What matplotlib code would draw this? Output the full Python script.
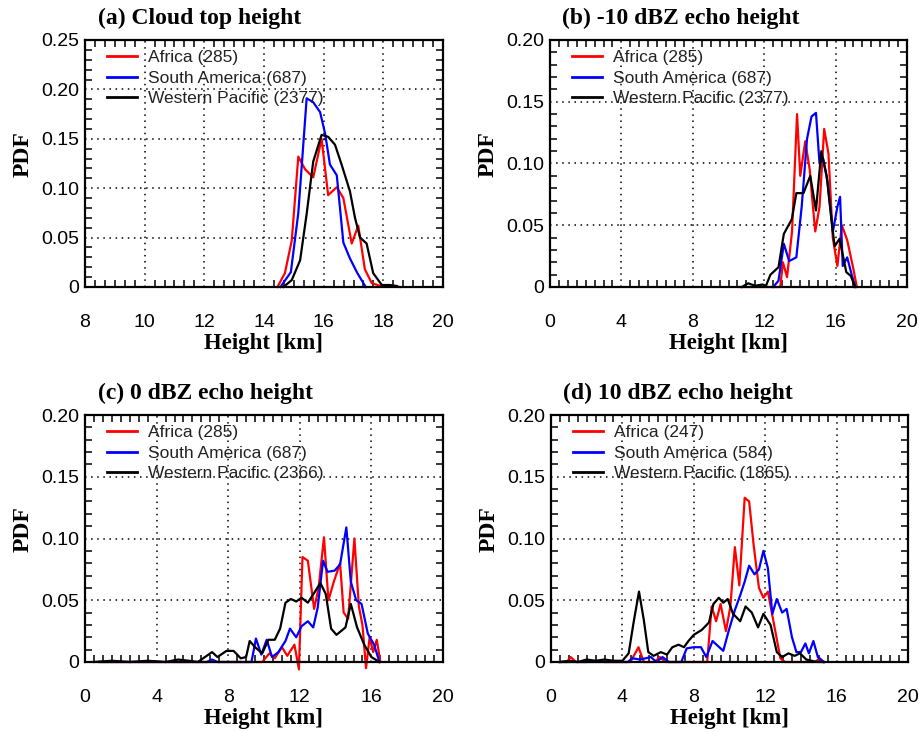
import matplotlib
matplotlib.use("Agg")
import matplotlib.pyplot as plt
from matplotlib.ticker import MultipleLocator, FuncFormatter

W, H = 919, 732

REGIONS = ["Africa", "South America", "Western Pacific"]
COLORS = ["#ff0000", "#0000ff", "#000000"]

# (a) cloud top height
cth_counts = [285, 687, 2377]
cth_af_h = [14.45, 14.7, 14.93, 15.15, 15.38, 15.65, 15.93, 16.15, 16.44, 16.66, 16.94, 17.16, 17.38, 17.61, 17.9, 18.2, 18.55]
cth_af_pdf = [0.0, 0.014, 0.047, 0.132, 0.119, 0.111, 0.150, 0.093, 0.101, 0.090, 0.044, 0.062, 0.018, 0.004, 0.001, 0.002, 0.0]
cth_sa_h = [14.55, 14.9, 15.15, 15.43, 15.65, 15.88, 16.05, 16.21, 16.44, 16.66, 16.88, 17.13, 17.41]
cth_sa_pdf = [0.0, 0.015, 0.075, 0.191, 0.187, 0.177, 0.155, 0.124, 0.113, 0.045, 0.029, 0.014, 0.0]
cth_wp_h = [14.65, 14.93, 15.21, 15.43, 15.65, 15.93, 16.15, 16.38, 16.6, 16.88, 17.05, 17.22, 17.44, 17.66, 17.95, 18.2, 18.45]
cth_wp_pdf = [0.0, 0.007, 0.027, 0.074, 0.127, 0.154, 0.152, 0.144, 0.124, 0.097, 0.070, 0.050, 0.044, 0.014, 0.002, 0.002, 0.001]

# (b) -10 dBZ echo height
m10_counts = [285, 687, 2377]
m10_af_h = [10.6, 12.9, 13.05, 13.28, 13.56, 13.84, 14.02, 14.3, 14.55, 14.7, 14.86, 15.1, 15.36, 15.6, 15.84, 16.1, 16.35, 16.65, 16.99, 17.19]
m10_af_pdf = [0.0, 0.0, 0.020, 0.008, 0.045, 0.140, 0.090, 0.118, 0.095, 0.070, 0.045, 0.065, 0.128, 0.108, 0.040, 0.017, 0.050, 0.038, 0.015, 0.0]
m10_sa_h = [12.5, 12.8, 13.1, 13.4, 13.8, 14.1, 14.4, 14.65, 14.9, 15.1, 15.3, 15.55, 15.85, 16.1, 16.25, 16.4, 16.65, 16.9, 17.1]
m10_sa_pdf = [0.0, 0.005, 0.035, 0.021, 0.024, 0.065, 0.120, 0.138, 0.141, 0.100, 0.104, 0.085, 0.045, 0.065, 0.073, 0.017, 0.024, 0.010, 0.0]
m10_wp_h = [10.75, 11.1, 11.5, 11.9, 12.1, 12.35, 12.8, 13.1, 13.55, 13.8, 14.2, 14.58, 14.9, 15.2, 15.5, 15.8, 15.95, 16.22, 16.6, 16.85, 17.1]
m10_wp_pdf = [0.0, 0.003, 0.001, 0.002, 0.001, 0.010, 0.016, 0.043, 0.055, 0.076, 0.076, 0.090, 0.062, 0.110, 0.090, 0.050, 0.033, 0.039, 0.012, 0.009, 0.0]

# (c) 0 dBZ echo height
z0_counts = [285, 687, 2366]
z0_af_h = [0.8, 9.9, 10.3, 10.6, 11.0, 11.3, 11.7, 11.95, 12.15, 12.45, 12.8, 13.05, 13.35, 13.6, 13.9, 14.25, 14.45, 14.7, 15.05, 15.3, 15.5, 15.7, 15.9, 16.1, 16.3, 16.5]
z0_af_pdf = [0.0, 0.0, 0.007, 0.003, 0.012, 0.005, 0.014, -0.006, 0.085, 0.082, 0.043, 0.060, 0.101, 0.050, 0.065, 0.080, 0.040, 0.035, 0.100, 0.045, 0.030, -0.005, 0.020, 0.008, 0.018, 0.0]
z0_sa_h = [0.8, 6.8, 7.1, 7.4, 9.3, 9.55, 9.85, 10.15, 10.45, 10.8, 11.2, 11.45, 11.8, 12.1, 12.45, 12.75, 13.0, 13.3, 13.55, 13.95, 14.25, 14.6, 14.85, 15.15, 15.45, 15.8, 16.15, 16.45]
z0_sa_pdf = [0.0, 0.0, 0.002, 0.0, 0.0, 0.019, 0.006, 0.018, 0.004, 0.008, 0.017, 0.027, 0.020, 0.029, 0.033, 0.028, 0.044, 0.082, 0.073, 0.074, 0.079, 0.109, 0.065, 0.050, 0.047, 0.023, 0.014, 0.0]
z0_wp_h = [0.5, 1.5, 2.5, 3.5, 4.5, 5.2, 5.8, 6.3, 6.6, 7.1, 7.4, 7.9, 8.3, 8.7, 9.0, 9.2, 9.5, 9.9, 10.25, 10.6, 10.9, 11.2, 11.5, 11.8, 12.1, 12.45, 12.85, 13.15, 13.45, 13.75, 14.05, 14.55, 14.85, 15.2, 15.6, 16.0, 16.45]
z0_wp_pdf = [0.0, 0.001, 0.0, 0.001, 0.0, 0.002, 0.001, 0.0, 0.003, 0.008, 0.004, 0.009, 0.009, 0.003, 0.004, 0.017, 0.012, 0.007, 0.018, 0.018, 0.027, 0.048, 0.051, 0.049, 0.052, 0.048, 0.057, 0.064, 0.055, 0.027, 0.022, 0.028, 0.047, 0.028, 0.014, 0.004, 0.0]

# (d) 10 dBZ echo height
z10_counts = [247, 584, 1865]
z10_af_h = [0.5, 0.9, 1.1, 1.4, 2.0, 2.5, 3.0, 4.45, 4.9, 5.2, 5.8, 6.1, 6.4, 8.75, 9.0, 9.25, 9.5, 9.8, 10.05, 10.3, 10.55, 10.85, 11.1, 11.35, 11.65, 11.9, 12.15, 12.5, 12.85, 13.1, 14.8, 15.05, 15.3]
z10_af_pdf = [0.0, 0.0, 0.004, 0.0, 0.0, 0.001, 0.0, 0.0, 0.012, 0.0, 0.0, 0.004, 0.0, 0.0, 0.045, 0.033, 0.047, 0.025, 0.045, 0.093, 0.062, 0.133, 0.130, 0.095, 0.060, 0.052, 0.057, 0.030, 0.003, 0.0, 0.0, 0.003, 0.0]
z10_sa_h = [0.5, 4.3, 4.55, 5.0, 5.6, 5.9, 6.25, 6.6, 7.3, 7.6, 8.0, 8.4, 8.7, 9.05, 9.35, 9.65, 9.95, 10.3, 10.6, 10.85, 11.1, 11.4, 11.65, 11.9, 12.15, 12.4, 12.65, 12.95, 13.2, 13.5, 13.75, 14.0, 14.25, 14.45, 14.7, 14.95, 15.25]
z10_sa_pdf = [0.0, 0.0, 0.003, 0.002, 0.004, 0.0, 0.004, 0.0, 0.0, 0.011, 0.012, 0.012, 0.004, 0.017, 0.013, 0.009, 0.025, 0.042, 0.054, 0.065, 0.078, 0.071, 0.075, 0.090, 0.076, 0.039, 0.051, 0.040, 0.043, 0.020, 0.008, 0.008, 0.015, 0.007, 0.017, 0.004, 0.0]
z10_wp_h = [0.5, 1.0, 1.5, 2.0, 2.5, 3.0, 3.5, 4.0, 4.35, 4.65, 4.93, 5.2, 5.45, 5.75, 6.15, 6.5, 6.8, 7.15, 7.45, 7.7, 8.0, 8.45, 8.85, 9.1, 9.4, 9.65, 9.9, 10.2, 10.6, 10.9, 11.25, 11.6, 11.9, 12.3, 12.65, 12.95, 13.3, 13.65, 13.95, 14.3, 14.9, 15.3]
z10_wp_pdf = [0.0, 0.001, 0.0, 0.002, 0.001, 0.002, 0.001, 0.001, 0.007, 0.034, 0.057, 0.034, 0.008, 0.005, 0.008, 0.006, 0.012, 0.014, 0.012, 0.017, 0.022, 0.026, 0.032, 0.047, 0.052, 0.048, 0.051, 0.039, 0.033, 0.045, 0.040, 0.028, 0.039, 0.030, 0.008, 0.004, 0.007, 0.005, 0.007, 0.002, 0.0, 0.0]

SERIF = ["Liberation Serif", "DejaVu Serif"]
SANS = ["Liberation Sans", "DejaVu Sans"]


def px_rect(left, top, right, bottom):
    return [left / W, 1 - bottom / H, (right - left) / W, (bottom - top) / H]


def pdf_fmt(v, _):
    return "0" if abs(v) < 1e-9 else f"{v:.2f}"


def draw_panel(fig, rect, title, series, counts, xlim, xmajor, xminor, ymax):
    ax = fig.add_axes(rect)
    for (h, p), name, n, c in zip(series, REGIONS, counts, COLORS):
        ax.plot(h, p, color=c, lw=1.6, clip_on=False, label=f"{name} ({n})")

    ax.set_xlim(*xlim)
    ax.set_ylim(0, ymax)
    ax.xaxis.set_major_locator(MultipleLocator(xmajor))
    ax.xaxis.set_minor_locator(MultipleLocator(xminor))
    ax.yaxis.set_major_locator(MultipleLocator(0.05))
    ax.yaxis.set_minor_locator(MultipleLocator(0.01))
    ax.yaxis.set_major_formatter(FuncFormatter(pdf_fmt))
    ax.grid(True, which="major", color="black", lw=1.1, linestyle=(0, (1, 3)))

    ax.tick_params(which="both", direction="in", top=True, right=True)
    ax.tick_params(which="major", length=0, labelsize=14)
    ax.tick_params(axis="x", which="major", pad=19.5)
    ax.tick_params(axis="y", which="major", pad=4)
    ax.tick_params(which="minor", length=5, width=1.1)
    for lab in ax.get_xticklabels() + ax.get_yticklabels():
        lab.set_family(SANS)
    for sp in ax.spines.values():
        sp.set_linewidth(1.6)

    ax.text(0.035, 1.088, title, transform=ax.transAxes, ha="left", va="center",
            family=SERIF, fontweight="bold", fontsize=17)
    ax.text(-0.172, 0.54, "PDF", transform=ax.transAxes, rotation=90,
            ha="center", va="center", family=SERIF, fontweight="bold", fontsize=17)
    ax.text(0.5, -0.228, "Height [km]", transform=ax.transAxes, ha="center",
            va="center", family=SERIF, fontweight="bold", fontsize=16.5)

    leg = ax.legend(loc="upper left", bbox_to_anchor=(0.061, 0.96), frameon=False,
                    prop={"family": SANS, "size": 12.5}, handlelength=1.75,
                    handletextpad=0.6, labelspacing=0.32, borderpad=0, borderaxespad=0)
    for t in leg.get_texts():
        t.set_color("#222222")
    for l in leg.get_lines():
        l.set_linewidth(2.0)
    return ax


fig = plt.figure(figsize=(W / 100, H / 100), dpi=100)

draw_panel(fig, px_rect(85, 40, 443, 287), "(a) Cloud top height",
           [(cth_af_h, cth_af_pdf), (cth_sa_h, cth_sa_pdf), (cth_wp_h, cth_wp_pdf)],
           cth_counts, (8, 20), 2, 1 / 3, 0.25)
draw_panel(fig, px_rect(550, 40, 907, 287), "(b) -10 dBZ echo height",
           [(m10_af_h, m10_af_pdf), (m10_sa_h, m10_sa_pdf), (m10_wp_h, m10_wp_pdf)],
           m10_counts, (0, 20), 4, 0.5, 0.20)
draw_panel(fig, px_rect(85, 415, 443, 662), "(c) 0 dBZ echo height",
           [(z0_af_h, z0_af_pdf), (z0_sa_h, z0_sa_pdf), (z0_wp_h, z0_wp_pdf)],
           z0_counts, (0, 20), 4, 0.5, 0.20)
draw_panel(fig, px_rect(551, 415, 908, 662), "(d) 10 dBZ echo height",
           [(z10_af_h, z10_af_pdf), (z10_sa_h, z10_sa_pdf), (z10_wp_h, z10_wp_pdf)],
           z10_counts, (0, 20), 4, 0.5, 0.20)

fig.savefig("out.png", dpi=100)
